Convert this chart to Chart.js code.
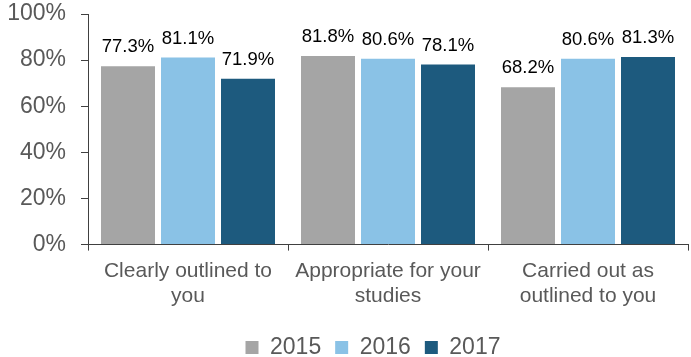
<!DOCTYPE html>
<html>
<head>
<meta charset="utf-8">
<script src="https://cdn.jsdelivr.net/npm/chart.js@4"></script>
<style>
  html, body { margin: 0; padding: 0; background: #fff; }
  #wrap { width: 691px; height: 357px; }
</style>
</head>
<body>
<div id="wrap"><canvas id="grafico"></canvas></div>
<script>
const categories = [
    ["Clearly outlined to", "you"],
    ["Appropriate for your", "studies"],
    ["Carried out as", "outlined to you"]
];
const years = ["2015", "2016", "2017"];
const values2015 = [77.3, 81.8, 68.2];
const values2016 = [81.1, 80.6, 80.6];
const values2017 = [71.9, 78.1, 81.3];
const colors = ["#a5a5a5", "#8ac2e6", "#1d5a7e"];

const FONT = "'Liberation Sans', Arial, sans-serif";

// labels above the bars
const barLabels = {
    id: "barLabels",
    afterDatasetsDraw(chart) {
        const c = chart.ctx;
        c.save();
        c.font = "18.5px " + FONT;
        c.fillStyle = "#000";
        c.textAlign = "center";
        c.textBaseline = "alphabetic";
        chart.data.datasets.forEach((ds, i) => {
            chart.getDatasetMeta(i).data.forEach((bar, j) => {
                c.fillText(ds.data[j].toFixed(1) + "%", bar.x, bar.y - 14);
            });
        });
        c.restore();
    }
};

// legend sits a bit right of centre in the original
const legendShift = {
    id: "legendShift",
    afterLayout(chart) {
        chart.legend.left += 25;
        chart.legend.right += 25;
    }
};

document.addEventListener("DOMContentLoaded", () => {
    const ctx = document.getElementById("grafico");
    new Chart(ctx, {
        type: "bar",
        data: {
            labels: categories,
            datasets: [values2015, values2016, values2017].map((d, i) => ({
                label: years[i],
                data: d,
                backgroundColor: colors[i],
                categoryPercentage: 0.9,
                barPercentage: 0.9
            }))
        },
        options: {
            responsive: true,
            maintainAspectRatio: false,
            animation: false,
            layout: { padding: { top: 1, right: 3, left: 8, bottom: -12 } },
            plugins: {
                legend: {
                    position: "bottom",
                    labels: {
                        boxWidth: 13,
                        boxHeight: 13,
                        padding: 14,
                        color: "#595959",
                        font: { family: FONT, size: 23 }
                    }
                },
                tooltip: { enabled: false }
            },
            scales: {
                y: {
                    min: 0,
                    max: 100,
                    afterFit(scale) {
                        scale.width = 80;
                        scale.paddingTop = 14;
                        scale.paddingBottom = 14;
                    },
                    ticks: {
                        stepSize: 20,
                        callback: v => v + "%",
                        color: "#595959",
                        padding: 15,
                        font: { family: FONT, size: 23 }
                    },
                    grid: { drawOnChartArea: false, tickLength: 7, color: "#404040" },
                    border: { color: "#404040" }
                },
                x: {
                    afterFit(scale) {
                        scale.paddingLeft = 0;
                        scale.paddingRight = 0;
                        scale.height += 5;
                    },
                    ticks: {
                        color: "#595959",
                        padding: 8,
                        maxRotation: 0,
                        font: { family: FONT, size: 21 }
                    },
                    grid: { drawOnChartArea: false, offset: true, tickLength: 6, color: "#404040" },
                    border: { color: "#404040" }
                }
            }
        },
        plugins: [barLabels, legendShift]
    });
});
</script>
</body>
</html>
